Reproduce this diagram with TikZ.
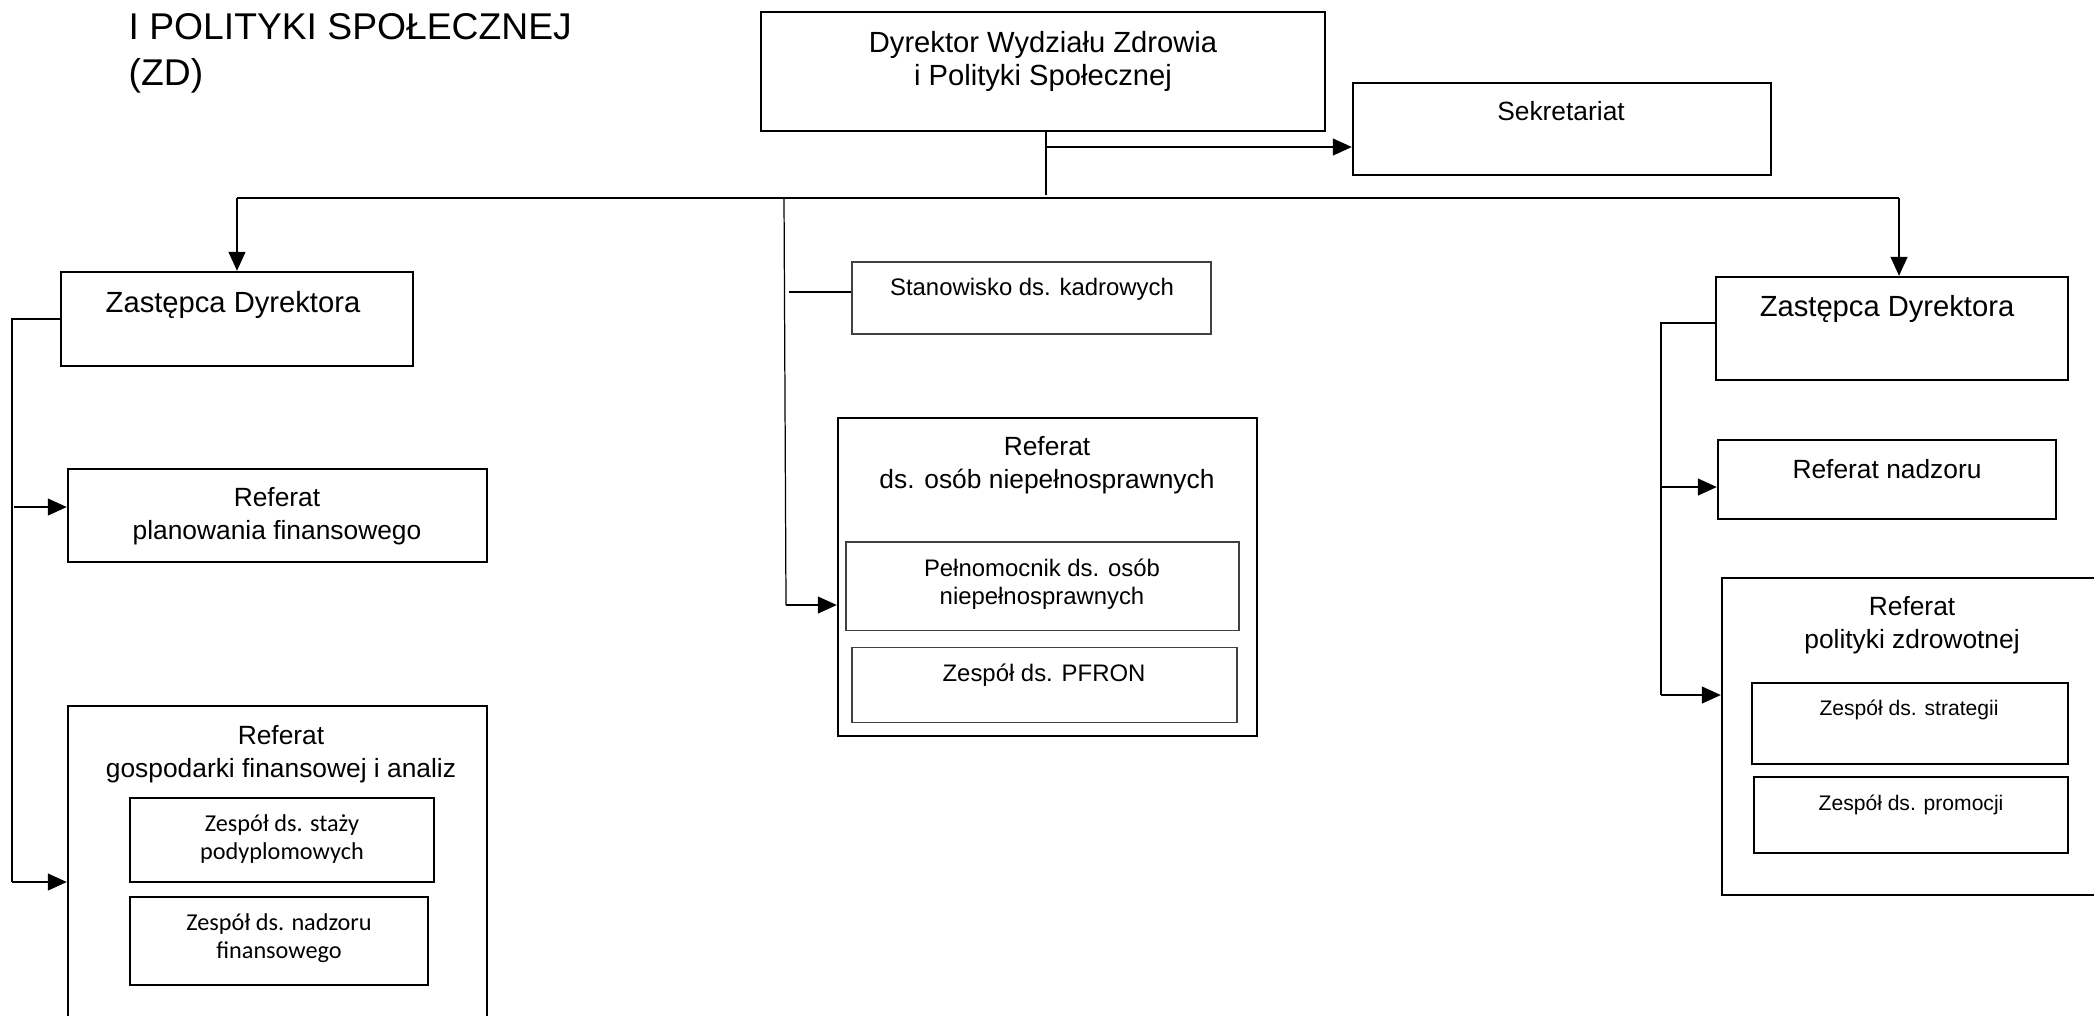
\documentclass[tikz,border=0pt]{standalone}
\usepackage{fontspec}
\setmainfont{Liberation Sans}
\newfontfamily\carlito{Carlito}
\usetikzlibrary{arrows.meta,positioning}
\tikzset{box/.style={draw, line width=0.7pt, inner sep=0pt}}
\tikzset{thinbox/.style={draw=black!75, line width=0.3pt, inner sep=0pt}}
\tikzset{ln/.style={draw=black, line width=0.35pt}}
\tikzset{arr/.style={ln, -{Triangle[length=0.19cm,width=0.17cm]}}}
\tikzset{txt/.style={align=center, inner sep=0pt, font=\fontsize{7.5}{9.5}\selectfont}}
\tikzset{bigtxt/.style={txt, font=\fontsize{8.3}{9.4}\selectfont}}
\tikzset{smalltxt/.style={txt, font=\fontsize{6.8}{8.1}\selectfont}}
\tikzset{tinytxt/.style={txt, font=\fontsize{6.0}{7.2}\selectfont}}
\tikzset{cartxt/.style={txt, font=\carlito\fontsize{6.9}{8}\selectfont}}

\begin{document}
\begin{tikzpicture}
		\useasboundingbox (0,0) rectangle (20.94,-10.15);
		\clip (0,0) rectangle (20.94,-10.15);
		
		\node[anchor=west, align=left, inner sep=0pt, font=\fontsize{10.6}{13.1}\selectfont] (title) at (1.28,-0.53) {I POLITYKI SPOŁECZNEJ\\(ZD)};
		
		% top level
		\node[box, minimum width=5.64cm, minimum height=1.19cm] (dyr) at (10.43,-0.715) {};
		\node[bigtxt] (dyrt) at (10.43,-0.61) {Dyrektor Wydziału Zdrowia\\i Polityki Społecznej};
		\node[box, minimum width=4.18cm, minimum height=0.92cm] (sekr) at (15.62,-1.29) {};
		\node[txt] (sekrt) at (15.61,-1.11) {Sekretariat};
		
		% left branch
		\node[box, minimum width=3.52cm, minimum height=0.94cm] (zast1) at (2.37,-3.19) {};
		\node[bigtxt] (zast1t) at (2.33,-3.05) {Zastępca Dyrektora};
		\node[box, minimum width=4.19cm, minimum height=0.93cm] (refplan) at (2.775,-5.155) {};
		\node[txt] (refplant) at (2.77,-5.16) {Referat\\planowania finansowego};
		\node[box, minimum width=4.19cm, minimum height=3.34cm] (refgosp) at (2.775,-8.73) {};
		\node[txt] (refgospt) at (2.81,-7.54) {Referat\\gospodarki finansowej i analiz};
		\node[box, minimum width=3.04cm, minimum height=0.84cm] (zstaz) at (2.82,-8.40) {};
		\node[cartxt] (zstazt) at (2.82,-8.39) {Zespół ds. staży\\podyplomowych};
		\node[box, minimum width=2.98cm, minimum height=0.88cm] (znadz) at (2.79,-9.41) {};
		\node[cartxt] (znadzt) at (2.79,-9.38) {Zespół ds. nadzoru\\finansowego};
		
		% middle branch
		\node[thinbox, minimum width=3.59cm, minimum height=0.72cm] (stan) at (10.315,-2.98) {};
		\node[smalltxt] (stant) at (10.32,-2.89) {Stanowisko ds. kadrowych};
		\node[box, minimum width=4.19cm, minimum height=3.18cm] (refon) at (10.475,-5.77) {};
		\node[txt] (refont) at (10.47,-4.65) {Referat\\ds. osób niepełnosprawnych};
		\node[thinbox, minimum width=3.93cm, minimum height=0.88cm] (peln) at (10.425,-5.86) {};
		\node[smalltxt] (pelnt) at (10.42,-5.84) {Pełnomocnik ds. osób\\niepełnosprawnych};
		\node[thinbox, minimum width=3.85cm, minimum height=0.75cm] (pfron) at (10.445,-6.845) {};
		\node[smalltxt] (pfront) at (10.44,-6.75) {Zespół ds. PFRON};
		
		% right branch
		\node[box, minimum width=3.52cm, minimum height=1.03cm] (zast2) at (18.92,-3.285) {};
		\node[bigtxt] (zast2t) at (18.87,-3.09) {Zastępca Dyrektora};
		\node[box, minimum width=3.38cm, minimum height=0.79cm] (refnadz) at (18.87,-4.795) {};
		\node[txt] (refnadzt) at (18.87,-4.69) {Referat nadzoru};
		\node[box, minimum width=4.19cm, minimum height=3.17cm] (refpol) at (19.315,-7.365) {};
		\node[txt] (refpolt) at (19.12,-6.25) {Referat\\polityki zdrowotnej};
		\node[box, minimum width=3.16cm, minimum height=0.81cm] (zstrat) at (19.10,-7.235) {};
		\node[tinytxt] (zstratt) at (19.09,-7.10) {Zespół ds. strategii};
		\node[box, minimum width=3.14cm, minimum height=0.76cm] (zprom) at (19.11,-8.15) {};
		\node[tinytxt] (zpromt) at (19.11,-8.05) {Zespół ds. promocji};
		
		% connectors
		\coordinate (busL) at (2.37,-1.98);
		\coordinate (busM) at (7.84,-1.98);
		\coordinate (busR) at (18.99,-1.98);
		\coordinate (sek) at (10.46,-1.47);
		\coordinate (kadr) at (7.89,-2.92);
		\coordinate (midB) at (7.86,-6.05);
		\coordinate (lft) at (0.12,-3.19);
		\coordinate (rgt) at (16.61,-3.23);
		
		\draw[ln] (dyr.south -| sek) -- (10.46,-1.95);
		\draw[arr] (sek) -- (sek -| sekr.west);
		\draw[ln] (busL) -- (busR);
		\draw[arr] (busL) -- (zast1.north);
		\draw[arr] (busR) -- (busR |- zast2.north);
		
		\draw[ln] (busM) -- (midB);
		\draw[arr] (midB) -- (midB -| refon.west);
		\draw[ln] (kadr) -- (kadr -| stan.west);
		
		\draw[ln] (zast1.west) -- (lft) -- (0.12,-8.82);
		\draw[arr] (0.14,-5.07) -- (refplan.west |- 0,-5.07);
		\draw[arr] (0.12,-8.82) -- (refgosp.west |- 0,-8.82);
		
		\draw[ln] (rgt -| zast2.west) -- (rgt) -- (16.61,-6.95);
		\draw[arr] (16.61,-4.87) -- (refnadz.west |- 0,-4.87);
		\draw[arr] (16.61,-6.95) -- (refpol.west |- 0,-6.95);
	\end{tikzpicture}
\end{document}
